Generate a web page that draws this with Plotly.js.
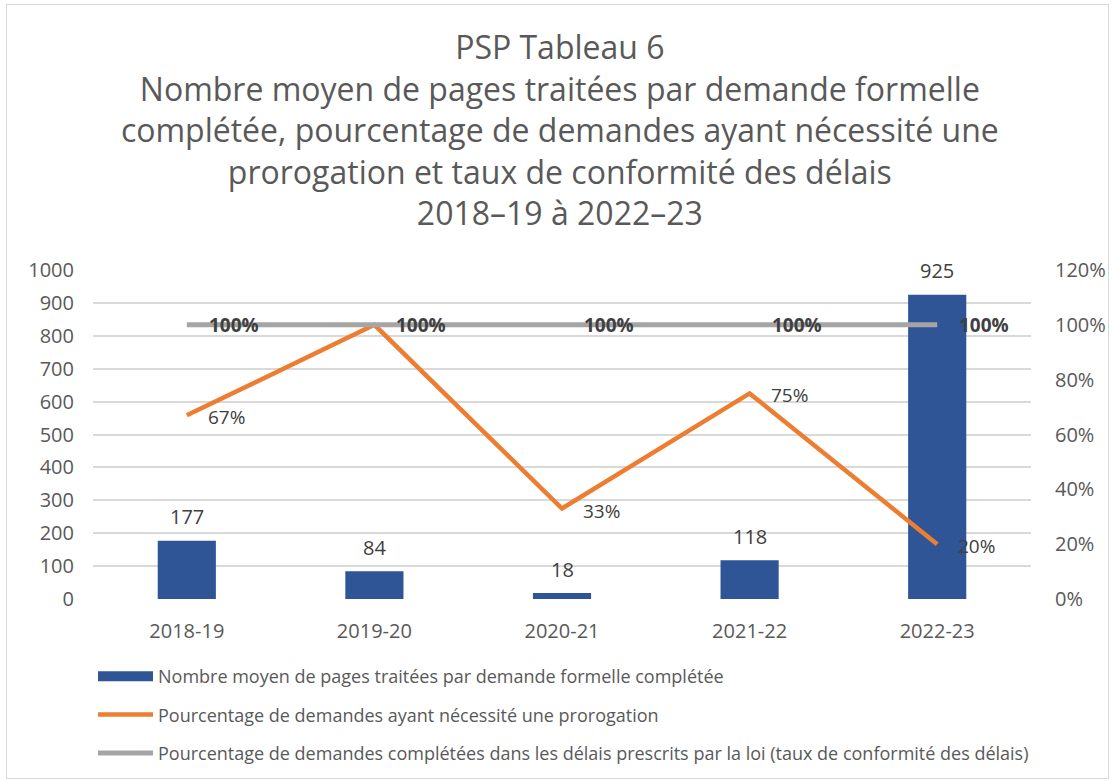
<!DOCTYPE html>
<html>
<head>
<meta charset="utf-8">
<script src="https://cdn.plot.ly/plotly-3.0.1.min.js"></script>
<style>
html, body { margin: 0; padding: 0; background: #fff; }
#chart { width: 1113px; height: 782px; }
#frame { position: absolute; left: 6px; top: 4px; width: 1101px; height: 773px; border: 1.5px solid #D9D9D9; pointer-events: none; }
</style>
</head>
<body>
<div id="chart"></div>
<div id="frame"></div>
<script>
const categories = ['2018-19', '2019-20', '2020-21', '2021-22', '2022-23'];
const pagesMoyennes = [177, 84, 18, 118, 925];
const pctProrogation = [0.67, 1.00, 0.33, 0.75, 0.20];
const pctConformite = [1.00, 1.00, 1.00, 1.00, 1.00];
const nomPages = 'Nombre moyen de pages traitées par demande formelle complétée';
const nomProrogation = 'Pourcentage de demandes ayant nécessité une prorogation';
const nomConformite = 'Pourcentage de demandes complétées dans les délais prescrits par la loi (taux de conformité des délais)';
const titleLines = [
  'PSP Tableau 6',
  'Nombre moyen de pages traitées par demande formelle',
  'complétée, pourcentage de demandes ayant nécessité une',
  'prorogation et taux de conformité des délais',
  '2018–19 à 2022–23'
];

const FONT = '"Open Sans", "Noto Sans", sans-serif';
const BLUE = '#2F5597', ORANGE = '#ED7D31', GRAY = '#A5A5A5';
const TXT = '#595959', LBL = '#404040';

const pct = v => Math.round(v * 100) + '%';

const traces = [
  { type: 'scatter', mode: 'lines', x: [null], y: [null], name: nomPages,
    line: { color: BLUE, width: 11 }, legendgroup: 'a', legendrank: 1, hoverinfo: 'skip' },
  { type: 'bar', x: categories, y: pagesMoyennes, name: nomPages, width: 0.31,
    marker: { color: BLUE }, showlegend: false, hoverinfo: 'x+y' },
  { type: 'scatter', mode: 'lines', x: categories, y: pctProrogation, yaxis: 'y2',
    name: nomProrogation, line: { color: ORANGE, width: 4.5 }, legendgroup: 'b', legendrank: 2 },
  { type: 'scatter', mode: 'lines', x: categories, y: pctConformite, yaxis: 'y2',
    name: nomConformite, line: { color: GRAY, width: 5 }, legendgroup: 'c', legendrank: 3 }
];

const annotations = [];
categories.forEach((c, i) => {
  annotations.push({ x: c, y: pagesMoyennes[i], xref: 'x', yref: 'y', text: String(pagesMoyennes[i]),
    showarrow: false, yanchor: 'middle', yshift: 24, font: { family: FONT, size: 20, color: LBL } });
  if (pctProrogation[i] !== pctConformite[i]) {
    annotations.push({ x: c, y: pctProrogation[i], xref: 'x', yref: 'y2', text: pct(pctProrogation[i]),
      showarrow: false, xanchor: 'left', yanchor: 'middle', xshift: 19, yshift: -2, font: { family: FONT, size: 19, color: LBL } });
  }
});
categories.forEach((c, i) => {
  annotations.push({ x: c, y: pctConformite[i], xref: 'x', yref: 'y2', text: '<b>' + pct(pctConformite[i]) + '</b>',
    showarrow: false, xanchor: 'left', yanchor: 'middle', xshift: 20, font: { family: FONT, size: 19, color: LBL } });
});

const layout = {
  width: 1113, height: 782,
  margin: { l: 93, r: 82, t: 270, b: 183, autoexpand: false },
  paper_bgcolor: '#fff', plot_bgcolor: '#fff',
  font: { family: FONT, color: TXT },
  title: { text: titleLines.join('<br>'), x: 0.503, xanchor: 'center', yref: 'container', y: 1 - 59 / 782, yanchor: 'middle',
    font: { family: FONT, size: 32, color: TXT } },
  xaxis: { type: 'category', showgrid: false, showline: false, zeroline: false, ticks: '',
    tickfont: { family: FONT, size: 20, color: TXT }, ticklabelstandoff: 18 },
  yaxis: { range: [0, 1000], dtick: 100, showgrid: true, gridcolor: '#D9D9D9', gridwidth: 1.5,
    zeroline: false, showline: false, ticks: '', ticklabelstandoff: 18,
    tickfont: { family: FONT, size: 20, color: TXT } },
  yaxis2: { range: [0, 1.2], dtick: 0.2, tickformat: '.0%', overlaying: 'y', side: 'right',
    showgrid: false, zeroline: false, showline: false, ticks: '', ticklabelstandoff: 23,
    tickfont: { family: FONT, size: 20, color: TXT } },
  legend: { orientation: 'v', x: 0.0, xanchor: 'left', y: (599 - 658) / 329, yanchor: 'top',
    traceorder: 'grouped', tracegroupgap: 12, itemwidth: 55,
    font: { family: FONT, size: 18, color: TXT }, bgcolor: 'rgba(0,0,0,0)' },
  annotations: annotations,
  showlegend: true
};

Plotly.newPlot('chart', traces, layout, { displayModeBar: false, responsive: false });
</script>
</body>
</html>
